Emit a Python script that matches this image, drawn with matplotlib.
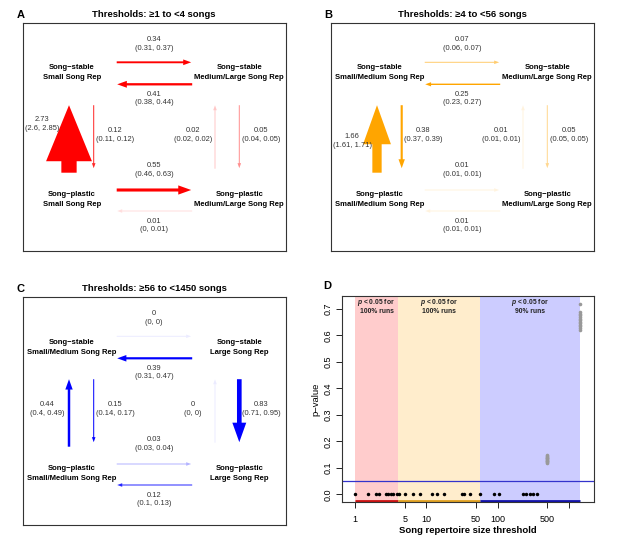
import numpy as np
import matplotlib
matplotlib.use("Agg")
import matplotlib.pyplot as plt
from matplotlib.patches import FancyArrow

plt.rcParams['font.family'] = ['Liberation Sans', 'DejaVu Sans']
plt.rcParams['mathtext.fontset'] = 'custom'
plt.rcParams['mathtext.it'] = 'Liberation Sans:italic:bold'
plt.rcParams['mathtext.rm'] = 'Liberation Sans:bold'

# ---------------- data ----------------
# transitions order: stable-small->stable-large, stable-large->stable-small,
# plastic-small->stable-small, stable-small->plastic-small,
# plastic-large->stable-large, stable-large->plastic-large,
# plastic-small->plastic-large, plastic-large->plastic-small
title_A = "Thresholds: \u22651 to <4 songs"
nodes_A = ["Song\u2212stable\nSmall Song Rep", "Song\u2212stable\nMedium/Large Song Rep",
           "Song\u2212plastic\nSmall Song Rep", "Song\u2212plastic\nMedium/Large Song Rep"]
rate_A = [0.34, 0.41, 2.73, 0.12, 0.02, 0.05, 0.55, 0.01]
lo_A = [0.31, 0.38, 2.6, 0.11, 0.02, 0.04, 0.46, 0]
hi_A = [0.37, 0.44, 2.85, 0.12, 0.02, 0.05, 0.63, 0.01]

title_B = "Thresholds: \u22654 to <56 songs"
nodes_B = ["Song\u2212stable\nSmall/Medium Song Rep", "Song\u2212stable\nMedium/Large Song Rep",
           "Song\u2212plastic\nSmall/Medium Song Rep", "Song\u2212plastic\nMedium/Large Song Rep"]
rate_B = [0.07, 0.25, 1.66, 0.38, 0.01, 0.05, 0.01, 0.01]
lo_B = [0.06, 0.23, 1.61, 0.37, 0.01, 0.05, 0.01, 0.01]
hi_B = [0.07, 0.27, 1.71, 0.39, 0.01, 0.05, 0.01, 0.01]

title_C = "Thresholds: \u226556 to <1450 songs"
nodes_C = ["Song\u2212stable\nSmall/Medium Song Rep", "Song\u2212stable\nLarge Song Rep",
           "Song\u2212plastic\nSmall/Medium Song Rep", "Song\u2212plastic\nLarge Song Rep"]
rate_C = [0, 0.39, 0.44, 0.15, 0, 0.83, 0.03, 0.12]
lo_C = [0, 0.31, 0.4, 0.14, 0, 0.71, 0.03, 0.1]
hi_C = [0, 0.47, 0.49, 0.17, 0, 0.95, 0.04, 0.13]

# panel D
thresh_sig = [1, 1.5, 2, 2.17, 2.72, 2.93, 3.16, 3.41, 3.88, 4.14, 5, 6.6, 8.07, 12, 14, 18,
              31.7, 34, 41, 57, 89, 103, 227, 253, 282, 314, 357]
p_sig = [0] * len(thresh_sig)
thresh_500 = 500
p_500 = [0.118, 0.121, 0.124, 0.127, 0.130, 0.133, 0.136, 0.139, 0.142, 0.145, 0.148]
thresh_1450 = 1450
p_1450 = [0.622, 0.628, 0.634, 0.640, 0.646, 0.652, 0.658, 0.664, 0.670, 0.676, 0.682, 0.688, 0.719]
bins = [1, 4, 56, 1450]
bin_text = ["100% runs", "100% runs", "90% runs"]
p_cut = 0.05
xticks_D = [1, 5, 10, 50, 100, 500, 1000]
xticklabels_D = ["1", "5", "10", "50", "100", "500", ""]

# ---------------- figure ----------------
W, H = 617, 548
fig = plt.figure(figsize=(W / 100, H / 100), dpi=100)


def add_ax(x0, y0, x1, y1):
    return fig.add_axes([x0 / W, 1 - y1 / H, (x1 - x0) / W, (y1 - y0) / H])


BW, BH = 263.0, 228.3
node_pos = [(49, 50.3), (216.6, 50.3), (49, 176.6), (216.6, 176.6)]
arrow_geom = [((94, 39.6), (168.5, 39.6)), ((169.5, 61.6), (94.5, 61.6)),
              ((46.3, 150), (46.3, 82.5)), ((71, 82.5), (71, 145.5)),
              ((192.3, 146), (192.3, 82.5)), ((216.6, 82.5), (216.6, 145.5)),
              ((94, 167.3), (168.5, 167.3)), ((169.5, 188.3), (94.5, 188.3))]
label_pos = [(131.3, 21), (131.3, 75.7), None, (92.5, 112), (170.2, 112), (238.8, 112),
             (131.3, 147.1), (131.3, 202.8)]


def fmt(v):
    return f"{v:g}"


def two_lines(ax, x, y, l1, l2, gap, **kw):
    ax.text(x, y - gap / 2, l1, ha='center', va='center', **kw)
    ax.text(x, y + gap / 2, l2, ha='center', va='center', **kw)


def diagram(ax, title, nodes, rates, los, his, color, left_label, letter):
    ax.set_xlim(0, BW)
    ax.set_ylim(BH, 0)
    ax.set_xticks([])
    ax.set_yticks([])
    for s in ax.spines.values():
        s.set_linewidth(0.8)
        s.set_color('#333333')
    for (x, y), t in zip(node_pos, nodes):
        l1, l2 = t.split("\n")
        two_lines(ax, x, y, l1, l2, 10.0, fontsize=5.5, fontweight='bold', color='black')
    for i, (r, lo, hi) in enumerate(zip(rates, los, his)):
        (x0, y0), (x1, y1) = arrow_geom[i]
        shaft = max(r * 5.6, 1.0)
        hw = max(3 * shaft, 3.6)
        length = np.hypot(x1 - x0, y1 - y0)
        hl = min(max(1.4 * hw, 4.5), 0.83 * length)
        a = float(np.clip((r / 0.15) ** 0.75, 0.08, 1.0))
        ax.add_patch(FancyArrow(x0, y0, x1 - x0, y1 - y0, width=shaft, head_width=hw,
                                head_length=hl, length_includes_head=True,
                                color=color, alpha=a, lw=0))
        lp = label_pos[i] if label_pos[i] is not None else left_label
        two_lines(ax, lp[0], lp[1], fmt(r), f"({fmt(lo)}, {fmt(hi)})", 8.7,
                  fontsize=5.4, color='#333333')
    bb = ax.get_position()
    fig.text(bb.x0 + bb.width / 2, bb.y1 + 8 / H, title, ha='center', va='center',
             fontsize=6.8, fontweight='bold')
    fig.text(bb.x0 - 2 / W, bb.y1 + 8 / H, letter, ha='center', va='center',
             fontsize=8, fontweight='bold')


axA = add_ax(22.7, 22.7, 285.7, 251)
diagram(axA, title_A, nodes_A, rate_A, lo_A, hi_A, '#FF0000', (19, 101.5), 'A')
axB = add_ax(330.7, 22.7, 593.7, 251)
diagram(axB, title_B, nodes_B, rate_B, lo_B, hi_B, '#FFA500', (21.6, 118), 'B')
axC = add_ax(22.7, 296.7, 285.7, 525)
diagram(axC, title_C, nodes_C, rate_C, lo_C, hi_C, '#0000FF', (24.8, 112.3), 'C')

# ---------------- panel D ----------------
axD = add_ax(342, 296, 594, 502)
axD.set_xscale('log')
axD.set_xlim(10 ** -0.182, 10 ** 3.352)
axD.set_ylim(-0.029, 0.749)
shade = ['#FF0000', '#FFA500', '#0000FF']
barc = ['#CC1111', '#E0A020', '#1111AA']
for i in range(3):
    axD.axvspan(bins[i], bins[i + 1], color=shade[i], alpha=0.2, lw=0, zorder=0)
    axD.plot([bins[i], bins[i + 1]], [-0.026, -0.026], color=barc[i], lw=2.0,
             solid_capstyle='butt', zorder=2, clip_on=False)
    xm = np.sqrt(bins[i] * bins[i + 1])
    axD.text(xm, 0.723, "$p$ < 0.05 for", ha='center', va='center',
             fontsize=4.9, fontweight='bold', color='#222222')
    axD.text(xm, 0.692, bin_text[i], ha='center', va='center',
             fontsize=4.9, fontweight='bold', color='#222222')
axD.axhline(p_cut, color='#3333CC', lw=0.9, zorder=1)
axD.plot([thresh_500] * len(p_500), p_500, 'o', color='#999999', ms=2.6, mec='none', zorder=3)
axD.plot([thresh_1450] * len(p_1450), p_1450, 'o', color='#999999', ms=2.6, mec='none', zorder=3)
axD.plot(thresh_sig, p_sig, 'o', color='black', ms=2.5, mec='none', zorder=4)
axD.set_xticks(xticks_D)
axD.set_xticklabels(xticklabels_D)
axD.xaxis.set_minor_locator(matplotlib.ticker.NullLocator())
axD.set_yticks([0, 0.1, 0.2, 0.3, 0.4, 0.5, 0.6, 0.7])
axD.set_yticklabels(["0.0", "0.1", "0.2", "0.3", "0.4", "0.5", "0.6", "0.7"])
axD.tick_params(axis='both', labelsize=6.5, length=4, width=0.6, pad=5)
axD.tick_params(axis='y', labelrotation=90, pad=3)
for lab in axD.get_yticklabels():
    lab.set_va('center')
for s in axD.spines.values():
    s.set_linewidth(0.8)
    s.set_color('#333333')
axD.set_xlabel("Song repertoire size threshold", fontsize=6.8, fontweight='bold', labelpad=2)
axD.set_ylabel("p\u2212value", fontsize=6.8, labelpad=2)
fig.text(327.3 / W, 1 - 285.7 / H, 'D', ha='center', va='center', fontsize=8, fontweight='bold')

fig.savefig("out.png", dpi=100)
